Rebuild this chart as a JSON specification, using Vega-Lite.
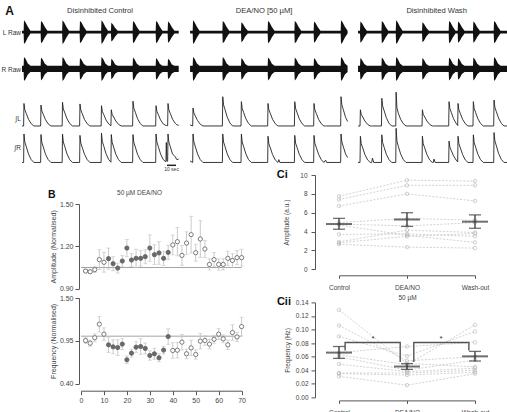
{
  "$schema": "https://vega.github.io/schema/vega-lite/v6.json",
  "background": "white",
  "padding": {"left": 0, "top": 0, "right": 0, "bottom": 0},
  "config": {
    "view": {"stroke": null},
    "font": "Liberation Sans",
    "axis": {"grid": false, "domainColor": "#555", "domainWidth": 1, "tickColor": "#555", "tickWidth": 1, "tickSize": 4, "labelColor": "#444", "labelFontSize": 7, "titleColor": "#444", "titleFontSize": 7, "titleFontWeight": "normal", "labelFlush": false, "labelOverlap": false}
  },
  "datasets": {
    "raw": [
      {"s":"c","t":0,"l":0.12,"m":-0.12,"r":0.26,"n":-0.26},
      {"s":"c","t":1.8,"l":0.12,"m":-0.12,"r":0.26,"n":-0.26},
      {"s":"c","t":2.2,"l":1,"m":-1,"r":1,"n":-1},
      {"s":"c","t":3.9,"l":0.85,"m":-0.85,"r":0.85,"n":-0.85},
      {"s":"c","t":6.5,"l":0.45,"m":-0.45,"r":0.45,"n":-0.45},
      {"s":"c","t":9.4,"l":0.12,"m":-0.12,"r":0.26,"n":-0.26},
      {"s":"c","t":20.7,"l":0.12,"m":-0.12,"r":0.26,"n":-0.26},
      {"s":"c","t":21.1,"l":0.95,"m":-0.95,"r":0.95,"n":-0.95},
      {"s":"c","t":22.8,"l":0.81,"m":-0.81,"r":0.81,"n":-0.81},
      {"s":"c","t":25.4,"l":0.43,"m":-0.43,"r":0.43,"n":-0.43},
      {"s":"c","t":28.3,"l":0.12,"m":-0.12,"r":0.26,"n":-0.26},
      {"s":"c","t":44.6,"l":0.12,"m":-0.12,"r":0.26,"n":-0.26},
      {"s":"c","t":45,"l":1,"m":-1,"r":1,"n":-1},
      {"s":"c","t":46.7,"l":0.85,"m":-0.85,"r":0.85,"n":-0.85},
      {"s":"c","t":49.3,"l":0.45,"m":-0.45,"r":0.45,"n":-0.45},
      {"s":"c","t":52.2,"l":0.12,"m":-0.12,"r":0.26,"n":-0.26},
      {"s":"c","t":64,"l":0.12,"m":-0.12,"r":0.26,"n":-0.26},
      {"s":"c","t":64.4,"l":0.95,"m":-0.95,"r":0.9,"n":-0.9},
      {"s":"c","t":66.1,"l":0.81,"m":-0.81,"r":0.77,"n":-0.77},
      {"s":"c","t":68.7,"l":0.43,"m":-0.43,"r":0.41,"n":-0.41},
      {"s":"c","t":71.6,"l":0.12,"m":-0.12,"r":0.26,"n":-0.26},
      {"s":"c","t":87.9,"l":0.12,"m":-0.12,"r":0.26,"n":-0.26},
      {"s":"c","t":88.3,"l":1,"m":-1,"r":1,"n":-1},
      {"s":"c","t":90,"l":0.85,"m":-0.85,"r":0.85,"n":-0.85},
      {"s":"c","t":92.6,"l":0.45,"m":-0.45,"r":0.45,"n":-0.45},
      {"s":"c","t":95.5,"l":0.12,"m":-0.12,"r":0.26,"n":-0.26},
      {"s":"c","t":98.8,"l":0.12,"m":-0.12,"r":0.26,"n":-0.26},
      {"s":"c","t":99.2,"l":0.8,"m":-0.8,"r":0.85,"n":-0.85},
      {"s":"c","t":100.9,"l":0.68,"m":-0.68,"r":0.72,"n":-0.72},
      {"s":"c","t":103.5,"l":0.36,"m":-0.36,"r":0.38,"n":-0.38},
      {"s":"c","t":106.4,"l":0.12,"m":-0.12,"r":0.26,"n":-0.26},
      {"s":"c","t":122.9,"l":0.12,"m":-0.12,"r":0.26,"n":-0.26},
      {"s":"c","t":123.3,"l":0.95,"m":-0.95,"r":0.95,"n":-0.95},
      {"s":"c","t":125,"l":0.81,"m":-0.81,"r":0.81,"n":-0.81},
      {"s":"c","t":127.6,"l":0.43,"m":-0.43,"r":0.43,"n":-0.43},
      {"s":"c","t":130.5,"l":0.12,"m":-0.12,"r":0.26,"n":-0.26},
      {"s":"c","t":148.5,"l":0.12,"m":-0.12,"r":0.26,"n":-0.26},
      {"s":"c","t":148.9,"l":0.95,"m":-0.95,"r":0.9,"n":-0.9},
      {"s":"c","t":150.6,"l":0.81,"m":-0.81,"r":0.77,"n":-0.77},
      {"s":"c","t":153.2,"l":0.43,"m":-0.43,"r":0.41,"n":-0.41},
      {"s":"c","t":156.1,"l":0.12,"m":-0.12,"r":0.26,"n":-0.26},
      {"s":"c","t":161.8,"l":0.12,"m":-0.12,"r":0.26,"n":-0.26},
      {"s":"c","t":162.2,"l":0.9,"m":-0.9,"r":0.85,"n":-0.85},
      {"s":"c","t":163.9,"l":0.77,"m":-0.77,"r":0.72,"n":-0.72},
      {"s":"c","t":166.5,"l":0.41,"m":-0.41,"r":0.38,"n":-0.38},
      {"s":"c","t":169.4,"l":0.12,"m":-0.12,"r":0.26,"n":-0.26},
      {"s":"c","t":174.1,"l":0.12,"m":-0.12,"r":0.26,"n":-0.26},
      {"s":"d","t":186.7,"l":0.12,"m":-0.12,"r":0.26,"n":-0.26},
      {"s":"d","t":189.6,"l":0.12,"m":-0.12,"r":0.26,"n":-0.26},
      {"s":"d","t":190,"l":1,"m":-1,"r":1,"n":-1},
      {"s":"d","t":191.7,"l":0.85,"m":-0.85,"r":0.85,"n":-0.85},
      {"s":"d","t":194.3,"l":0.45,"m":-0.45,"r":0.45,"n":-0.45},
      {"s":"d","t":197.2,"l":0.12,"m":-0.12,"r":0.26,"n":-0.26},
      {"s":"d","t":222.6,"l":0.12,"m":-0.12,"r":0.26,"n":-0.26},
      {"s":"d","t":223,"l":0.95,"m":-0.95,"r":1,"n":-1},
      {"s":"d","t":224.7,"l":0.81,"m":-0.81,"r":0.85,"n":-0.85},
      {"s":"d","t":227.3,"l":0.43,"m":-0.43,"r":0.45,"n":-0.45},
      {"s":"d","t":230.2,"l":0.12,"m":-0.12,"r":0.26,"n":-0.26},
      {"s":"d","t":243.3,"l":0.12,"m":-0.12,"r":0.26,"n":-0.26},
      {"s":"d","t":243.7,"l":0.85,"m":-0.85,"r":0.9,"n":-0.9},
      {"s":"d","t":245.4,"l":0.72,"m":-0.72,"r":0.77,"n":-0.77},
      {"s":"d","t":248,"l":0.38,"m":-0.38,"r":0.41,"n":-0.41},
      {"s":"d","t":250.9,"l":0.12,"m":-0.12,"r":0.26,"n":-0.26},
      {"s":"d","t":272.9,"l":0.12,"m":-0.12,"r":0.26,"n":-0.26},
      {"s":"d","t":273.3,"l":0.95,"m":-0.95,"r":0.95,"n":-0.95},
      {"s":"d","t":275,"l":0.81,"m":-0.81,"r":0.81,"n":-0.81},
      {"s":"d","t":277.6,"l":0.43,"m":-0.43,"r":0.43,"n":-0.43},
      {"s":"d","t":280.5,"l":0.12,"m":-0.12,"r":0.26,"n":-0.26},
      {"s":"d","t":302.6,"l":0.12,"m":-0.12,"r":0.26,"n":-0.26},
      {"s":"d","t":303,"l":0.95,"m":-0.95,"r":0.95,"n":-0.95},
      {"s":"d","t":304.7,"l":0.81,"m":-0.81,"r":0.81,"n":-0.81},
      {"s":"d","t":307.3,"l":0.43,"m":-0.43,"r":0.43,"n":-0.43},
      {"s":"d","t":310.2,"l":0.12,"m":-0.12,"r":0.26,"n":-0.26},
      {"s":"d","t":324,"l":0.12,"m":-0.12,"r":0.26,"n":-0.26},
      {"s":"d","t":324.4,"l":0.9,"m":-0.9,"r":0.9,"n":-0.9},
      {"s":"d","t":326.1,"l":0.77,"m":-0.77,"r":0.77,"n":-0.77},
      {"s":"d","t":328.7,"l":0.41,"m":-0.41,"r":0.41,"n":-0.41},
      {"s":"d","t":331.6,"l":0.12,"m":-0.12,"r":0.26,"n":-0.26},
      {"s":"d","t":354,"l":0.12,"m":-0.12,"r":0.26,"n":-0.26},
      {"s":"d","t":354.4,"l":1,"m":-1,"r":1,"n":-1},
      {"s":"d","t":356.1,"l":0.85,"m":-0.85,"r":0.85,"n":-0.85},
      {"s":"d","t":358.7,"l":0.45,"m":-0.45,"r":0.45,"n":-0.45},
      {"s":"d","t":361.7,"l":0.12,"m":-0.12,"r":0.26,"n":-0.26},
      {"s":"w","t":373.3,"l":0.12,"m":-0.12,"r":0.26,"n":-0.26},
      {"s":"w","t":375.5,"l":0.12,"m":-0.12,"r":0.26,"n":-0.26},
      {"s":"w","t":375.9,"l":0.9,"m":-0.9,"r":0.9,"n":-0.9},
      {"s":"w","t":377.6,"l":0.77,"m":-0.77,"r":0.77,"n":-0.77},
      {"s":"w","t":380.2,"l":0.41,"m":-0.41,"r":0.41,"n":-0.41},
      {"s":"w","t":383.1,"l":0.12,"m":-0.12,"r":0.26,"n":-0.26},
      {"s":"w","t":399.3,"l":0.12,"m":-0.12,"r":0.26,"n":-0.26},
      {"s":"w","t":399.7,"l":0.95,"m":-0.95,"r":0.95,"n":-0.95},
      {"s":"w","t":401.4,"l":0.81,"m":-0.81,"r":0.81,"n":-0.81},
      {"s":"w","t":404,"l":0.43,"m":-0.43,"r":0.43,"n":-0.43},
      {"s":"w","t":406.9,"l":0.12,"m":-0.12,"r":0.26,"n":-0.26},
      {"s":"w","t":415.2,"l":0.12,"m":-0.12,"r":0.26,"n":-0.26},
      {"s":"w","t":415.6,"l":1,"m":-1,"r":1,"n":-1},
      {"s":"w","t":417.3,"l":0.85,"m":-0.85,"r":0.85,"n":-0.85},
      {"s":"w","t":419.9,"l":0.45,"m":-0.45,"r":0.45,"n":-0.45},
      {"s":"w","t":422.8,"l":0.12,"m":-0.12,"r":0.26,"n":-0.26},
      {"s":"w","t":444.4,"l":0.12,"m":-0.12,"r":0.26,"n":-0.26},
      {"s":"w","t":444.8,"l":0.85,"m":-0.85,"r":0.9,"n":-0.9},
      {"s":"w","t":446.5,"l":0.72,"m":-0.72,"r":0.77,"n":-0.77},
      {"s":"w","t":449.1,"l":0.38,"m":-0.38,"r":0.41,"n":-0.41},
      {"s":"w","t":452,"l":0.12,"m":-0.12,"r":0.26,"n":-0.26},
      {"s":"w","t":474,"l":0.12,"m":-0.12,"r":0.26,"n":-0.26},
      {"s":"w","t":474.4,"l":0.95,"m":-0.95,"r":0.95,"n":-0.95},
      {"s":"w","t":476.1,"l":0.81,"m":-0.81,"r":0.81,"n":-0.81},
      {"s":"w","t":478.7,"l":0.43,"m":-0.43,"r":0.43,"n":-0.43},
      {"s":"w","t":481.6,"l":0.12,"m":-0.12,"r":0.26,"n":-0.26},
      {"s":"w","t":484,"l":0.12,"m":-0.12,"r":0.26,"n":-0.26},
      {"s":"w","t":484.4,"l":0.9,"m":-0.9,"r":0.9,"n":-0.9},
      {"s":"w","t":486.1,"l":0.77,"m":-0.77,"r":0.77,"n":-0.77},
      {"s":"w","t":488.7,"l":0.41,"m":-0.41,"r":0.41,"n":-0.41},
      {"s":"w","t":491.6,"l":0.12,"m":-0.12,"r":0.26,"n":-0.26},
      {"s":"w","t":501,"l":0.12,"m":-0.12,"r":0.26,"n":-0.26},
      {"s":"w","t":501.4,"l":0.9,"m":-0.9,"r":0.95,"n":-0.95},
      {"s":"w","t":503.1,"l":0.77,"m":-0.77,"r":0.81,"n":-0.81},
      {"s":"w","t":505.7,"l":0.41,"m":-0.41,"r":0.43,"n":-0.43},
      {"s":"w","t":508.6,"l":0.12,"m":-0.12,"r":0.26,"n":-0.26},
      {"s":"w","t":524,"l":0.12,"m":-0.12,"r":0.26,"n":-0.26},
      {"s":"w","t":524.4,"l":0.95,"m":-0.95,"r":1,"n":-1},
      {"s":"w","t":526.1,"l":0.81,"m":-0.81,"r":0.85,"n":-0.85},
      {"s":"w","t":528.7,"l":0.43,"m":-0.43,"r":0.45,"n":-0.45},
      {"s":"w","t":531.6,"l":0.12,"m":-0.12,"r":0.26,"n":-0.26},
      {"s":"w","t":541,"l":0.12,"m":-0.12,"r":0.26,"n":-0.26}
    ],
    "intg": [
      {"s":"c","t":0,"l":0,"r":0},{"s":"c","t":1.8,"l":0,"r":0},{"s":"c","t":2.2,"l":1,"r":1},{"s":"c","t":3.1,"l":0.72,"r":0.72},{"s":"c","t":4.8,"l":0.55,"r":0.55},{"s":"c","t":7.2,"l":0.3,"r":0.3},{"s":"c","t":10.2,"l":0.1,"r":0.1},{"s":"c","t":13.2,"l":0,"r":0},
      {"s":"c","t":20.7,"l":0,"r":0},{"s":"c","t":21.1,"l":0.93,"r":0.98},{"s":"c","t":22,"l":0.67,"r":0.71},{"s":"c","t":23.7,"l":0.51,"r":0.54},{"s":"c","t":26.1,"l":0.28,"r":0.29},{"s":"c","t":29.1,"l":0.09,"r":0.1},{"s":"c","t":32.1,"l":0,"r":0},
      {"s":"c","t":44.6,"l":0,"r":0},{"s":"c","t":45,"l":1.05,"r":1},{"s":"c","t":45.9,"l":0.76,"r":0.72},{"s":"c","t":47.6,"l":0.58,"r":0.55},{"s":"c","t":50,"l":0.32,"r":0.3},{"s":"c","t":53,"l":0.11,"r":0.1},{"s":"c","t":56,"l":0,"r":0},
      {"s":"c","t":64,"l":0,"r":0},{"s":"c","t":64.4,"l":0.98,"r":0.95},{"s":"c","t":65.3,"l":0.71,"r":0.68},{"s":"c","t":67,"l":0.54,"r":0.52},{"s":"c","t":69.4,"l":0.29,"r":0.29},{"s":"c","t":72.4,"l":0.1,"r":0.1},{"s":"c","t":75.4,"l":0,"r":0},
      {"s":"c","t":87.9,"l":0,"r":0},{"s":"c","t":88.3,"l":0.9,"r":1.03},{"s":"c","t":89.2,"l":0.65,"r":0.74},{"s":"c","t":90.9,"l":0.5,"r":0.57},{"s":"c","t":93.3,"l":0.27,"r":0.31},{"s":"c","t":96.3,"l":0.09,"r":0.1},
      {"s":"c","t":98.8,"l":0.01,"r":0.01},{"s":"c","t":99.2,"l":0.72,"r":0.98},{"s":"c","t":100.1,"l":0.52,"r":0.71},{"s":"c","t":101.8,"l":0.4,"r":0.54},{"s":"c","t":104.2,"l":0.22,"r":0.29},{"s":"c","t":107.2,"l":0.07,"r":0.1},{"s":"c","t":110.2,"l":0,"r":0},
      {"s":"c","t":122.9,"l":0,"r":0},{"s":"c","t":123.3,"l":1.1,"r":0.98},{"s":"c","t":124.2,"l":0.79,"r":0.71},{"s":"c","t":125.9,"l":0.61,"r":0.54},{"s":"c","t":128.3,"l":0.33,"r":0.29},{"s":"c","t":131.3,"l":0.11,"r":0.1},{"s":"c","t":134.3,"l":0,"r":0},
      {"s":"c","t":148.5,"l":0,"r":0},{"s":"c","t":148.9,"l":0.9,"r":1},{"s":"c","t":149.8,"l":0.65,"r":0.72},{"s":"c","t":151.5,"l":0.5,"r":0.55},{"s":"c","t":153.9,"l":0.27,"r":0.3},{"s":"c","t":156.9,"l":0.09,"r":0.1},
      {"s":"c","t":159.9,"l":0.02,"r":0.02},{"s":"c","t":160.3,"l":0.02,"r":0.7},{"s":"c","t":160.9,"l":0.02,"r":0.06},
      {"s":"c","t":161.8,"l":0.01,"r":0.04},{"s":"c","t":162.2,"l":1,"r":1},{"s":"c","t":163.1,"l":0.72,"r":0.72},{"s":"c","t":164.8,"l":0.55,"r":0.55},{"s":"c","t":167.2,"l":0.3,"r":0.3},{"s":"c","t":170.2,"l":0.12,"r":0.2},{"s":"c","t":172,"l":0.05,"r":0.1},{"s":"c","t":174.1,"l":0.03,"r":0.12},
      {"s":"d","t":186.7,"l":0.05,"r":0.05},{"s":"d","t":189.6,"l":0,"r":0},{"s":"d","t":190,"l":0.8,"r":1},{"s":"d","t":190.9,"l":0.58,"r":0.72},{"s":"d","t":192.6,"l":0.44,"r":0.55},{"s":"d","t":195,"l":0.24,"r":0.3},{"s":"d","t":198,"l":0.08,"r":0.1},{"s":"d","t":201,"l":0,"r":0},
      {"s":"d","t":222.6,"l":0,"r":0},{"s":"d","t":223,"l":1.3,"r":1},{"s":"d","t":223.9,"l":0.94,"r":0.72},{"s":"d","t":225.6,"l":0.72,"r":0.55},{"s":"d","t":228,"l":0.39,"r":0.3},{"s":"d","t":231,"l":0.13,"r":0.1},{"s":"d","t":234,"l":0,"r":0},
      {"s":"d","t":243.3,"l":0,"r":0},{"s":"d","t":243.7,"l":1.08,"r":1},{"s":"d","t":244.6,"l":0.78,"r":0.72},{"s":"d","t":246.3,"l":0.59,"r":0.55},{"s":"d","t":248.7,"l":0.32,"r":0.3},{"s":"d","t":251.7,"l":0.11,"r":0.1},{"s":"d","t":254.7,"l":0,"r":0},
      {"s":"d","t":272.9,"l":0,"r":0},{"s":"d","t":273.3,"l":1,"r":0.92},{"s":"d","t":274.2,"l":0.72,"r":0.66},{"s":"d","t":275.9,"l":0.55,"r":0.51},{"s":"d","t":278.3,"l":0.3,"r":0.28},{"s":"d","t":281.3,"l":0.1,"r":0.09},{"s":"d","t":284.3,"l":0,"r":0},
      {"s":"d","t":285.3,"l":0,"r":0.1},{"s":"d","t":286.5,"l":0,"r":0},
      {"s":"d","t":302.6,"l":0,"r":0},{"s":"d","t":303,"l":1.08,"r":0.95},{"s":"d","t":303.9,"l":0.78,"r":0.68},{"s":"d","t":305.6,"l":0.59,"r":0.52},{"s":"d","t":308,"l":0.32,"r":0.29},{"s":"d","t":311,"l":0.11,"r":0.1},{"s":"d","t":314,"l":0,"r":0},
      {"s":"d","t":324,"l":0,"r":0},{"s":"d","t":324.4,"l":1,"r":0.95},{"s":"d","t":325.3,"l":0.72,"r":0.68},{"s":"d","t":327,"l":0.55,"r":0.52},{"s":"d","t":329.4,"l":0.3,"r":0.29},{"s":"d","t":332.4,"l":0.1,"r":0.1},{"s":"d","t":335.4,"l":0,"r":0},
      {"s":"d","t":337.3,"l":0,"r":0.08},{"s":"d","t":338.5,"l":0,"r":0},
      {"s":"d","t":354,"l":0,"r":0},{"s":"d","t":354.4,"l":1.3,"r":1},{"s":"d","t":355.3,"l":0.94,"r":0.72},{"s":"d","t":357,"l":0.72,"r":0.55},{"s":"d","t":359.4,"l":0.39,"r":0.3},{"s":"d","t":361.7,"l":0.2,"r":0.17},
      {"s":"w","t":373.3,"l":0,"r":0},{"s":"w","t":375.5,"l":0,"r":0},{"s":"w","t":375.9,"l":0.72,"r":0.92},{"s":"w","t":376.8,"l":0.52,"r":0.66},{"s":"w","t":378.5,"l":0.4,"r":0.51},{"s":"w","t":380.9,"l":0.22,"r":0.28},{"s":"w","t":383.9,"l":0.07,"r":0.09},{"s":"w","t":386.9,"l":0,"r":0},
      {"s":"w","t":388.5,"l":0,"r":0},{"s":"w","t":389.3,"l":0,"r":0.15},{"s":"w","t":390.8,"l":0,"r":0},
      {"s":"w","t":399.3,"l":0,"r":0},{"s":"w","t":399.7,"l":1.23,"r":0.97},{"s":"w","t":400.6,"l":0.89,"r":0.7},{"s":"w","t":402.3,"l":0.68,"r":0.53},{"s":"w","t":404.7,"l":0.37,"r":0.29},{"s":"w","t":407.7,"l":0.12,"r":0.1},{"s":"w","t":410.7,"l":0,"r":0},
      {"s":"w","t":415.2,"l":0,"r":0},{"s":"w","t":415.6,"l":1.5,"r":1.2},{"s":"w","t":416.5,"l":0.8,"r":0.75},{"s":"w","t":418.2,"l":0.55,"r":0.55},{"s":"w","t":420.6,"l":0.3,"r":0.3},{"s":"w","t":423.6,"l":0.1,"r":0.1},{"s":"w","t":426.6,"l":0,"r":0},
      {"s":"w","t":444.4,"l":0,"r":0},{"s":"w","t":444.8,"l":0.72,"r":0.92},{"s":"w","t":445.7,"l":0.52,"r":0.66},{"s":"w","t":447.4,"l":0.4,"r":0.51},{"s":"w","t":449.8,"l":0.22,"r":0.28},{"s":"w","t":452.8,"l":0.07,"r":0.09},{"s":"w","t":455.8,"l":0,"r":0},
      {"s":"w","t":456.9,"l":0,"r":0},{"s":"w","t":457.7,"l":0,"r":0.12},{"s":"w","t":459,"l":0,"r":0},
      {"s":"w","t":474,"l":0,"r":0},{"s":"w","t":474.4,"l":1.08,"r":0.75},{"s":"w","t":475.3,"l":0.78,"r":0.54},{"s":"w","t":477,"l":0.59,"r":0.41},{"s":"w","t":479.4,"l":0.32,"r":0.23},{"s":"w","t":482.4,"l":0.11,"r":0.08},
      {"s":"w","t":484,"l":0.02,"r":0.02},{"s":"w","t":484.4,"l":1,"r":0.92},{"s":"w","t":485.3,"l":0.72,"r":0.66},{"s":"w","t":487,"l":0.55,"r":0.51},{"s":"w","t":489.4,"l":0.3,"r":0.28},{"s":"w","t":492.4,"l":0.1,"r":0.09},{"s":"w","t":495.4,"l":0,"r":0},
      {"s":"w","t":501,"l":0,"r":0},{"s":"w","t":501.4,"l":1.08,"r":0.97},{"s":"w","t":502.3,"l":0.78,"r":0.7},{"s":"w","t":504,"l":0.59,"r":0.53},{"s":"w","t":506.4,"l":0.32,"r":0.29},{"s":"w","t":509.4,"l":0.11,"r":0.1},{"s":"w","t":512.4,"l":0,"r":0},
      {"s":"w","t":524,"l":0,"r":0},{"s":"w","t":524.4,"l":1.15,"r":1.05},{"s":"w","t":525.3,"l":0.83,"r":0.76},{"s":"w","t":527,"l":0.63,"r":0.58},{"s":"w","t":529.4,"l":0.35,"r":0.32},{"s":"w","t":532.4,"l":0.12,"r":0.11},{"s":"w","t":535.4,"l":0,"r":0},
      {"s":"w","t":541,"l":0,"r":0}
    ],
    "bser": [
      {"t":2,"a":1.025,"aL":1.013,"aH":1.037,"f":0.954,"fL":0.919,"fH":0.989,"p":"off"},
      {"t":4,"a":1.02,"aL":1.008,"aH":1.032,"f":0.92,"fL":0.88,"fH":0.96,"p":"off"},
      {"t":6,"a":1.035,"aL":1.015,"aH":1.055,"f":0.99,"fL":0.94,"fH":1.04,"p":"off"},
      {"t":8,"a":1.106,"aL":1.036,"aH":1.176,"f":1.164,"fL":1.064,"fH":1.264,"p":"off"},
      {"t":10,"a":1.087,"aL":1.017,"aH":1.157,"f":1.036,"fL":0.956,"fH":1.116,"p":"off"},
      {"t":12,"a":1.113,"aL":1.038,"aH":1.188,"f":0.899,"fL":0.799,"fH":0.999,"p":"on"},
      {"t":14,"a":1.077,"aL":1.027,"aH":1.127,"f":0.873,"fL":0.783,"fH":0.963,"p":"on"},
      {"t":16,"a":1.046,"aL":1.011,"aH":1.081,"f":0.864,"fL":0.764,"fH":0.964,"p":"on"},
      {"t":18,"a":1.096,"aL":1.056,"aH":1.136,"f":0.908,"fL":0.838,"fH":0.978,"p":"on"},
      {"t":20,"a":1.188,"aL":1.128,"aH":1.248,"f":0.707,"fL":0.657,"fH":0.757,"p":"on"},
      {"t":22,"a":1.103,"aL":1.058,"aH":1.148,"f":0.792,"fL":0.742,"fH":0.842,"p":"on"},
      {"t":24,"a":1.115,"aL":1.05,"aH":1.18,"f":0.869,"fL":0.799,"fH":0.939,"p":"on"},
      {"t":26,"a":1.115,"aL":1.06,"aH":1.17,"f":0.877,"fL":0.777,"fH":0.977,"p":"on"},
      {"t":28,"a":1.127,"aL":1.077,"aH":1.177,"f":0.852,"fL":0.782,"fH":0.922,"p":"on"},
      {"t":30,"a":1.188,"aL":1.095,"aH":1.281,"f":0.762,"fL":0.702,"fH":0.822,"p":"on"},
      {"t":32,"a":1.141,"aL":1.071,"aH":1.211,"f":0.784,"fL":0.714,"fH":0.854,"p":"on"},
      {"t":34,"a":1.153,"aL":1.073,"aH":1.233,"f":0.733,"fL":0.683,"fH":0.783,"p":"on"},
      {"t":36,"a":1.115,"aL":1.065,"aH":1.165,"f":0.831,"fL":0.781,"fH":0.881,"p":"on"},
      {"t":38,"a":1.157,"aL":1.107,"aH":1.207,"f":1.005,"fL":0.905,"fH":1.105,"p":"on"},
      {"t":40,"a":1.21,"aL":1.14,"aH":1.28,"f":0.826,"fL":0.726,"fH":0.926,"p":"off"},
      {"t":42,"a":1.233,"aL":1.133,"aH":1.333,"f":0.83,"fL":0.73,"fH":0.93,"p":"off"},
      {"t":44,"a":1.136,"aL":1.066,"aH":1.206,"f":0.933,"fL":0.833,"fH":1.033,"p":"off"},
      {"t":46,"a":1.223,"aL":1.143,"aH":1.303,"f":0.784,"fL":0.724,"fH":0.844,"p":"off"},
      {"t":48,"a":1.283,"aL":1.153,"aH":1.413,"f":0.86,"fL":0.76,"fH":0.96,"p":"off"},
      {"t":50,"a":1.155,"aL":1.095,"aH":1.215,"f":0.775,"fL":0.715,"fH":0.835,"p":"off"},
      {"t":52,"a":1.252,"aL":1.122,"aH":1.382,"f":0.946,"fL":0.846,"fH":1.046,"p":"off"},
      {"t":54,"a":1.181,"aL":1.121,"aH":1.241,"f":0.954,"fL":0.894,"fH":1.014,"p":"off"},
      {"t":56,"a":1.072,"aL":1.032,"aH":1.112,"f":0.908,"fL":0.848,"fH":0.968,"p":"off"},
      {"t":58,"a":1.106,"aL":1.056,"aH":1.156,"f":0.97,"fL":0.92,"fH":1.02,"p":"off"},
      {"t":60,"a":1.072,"aL":1.032,"aH":1.112,"f":1.036,"fL":0.966,"fH":1.106,"p":"off"},
      {"t":62,"a":1.072,"aL":1.032,"aH":1.112,"f":0.976,"fL":0.926,"fH":1.026,"p":"off"},
      {"t":64,"a":1.115,"aL":1.065,"aH":1.165,"f":0.899,"fL":0.839,"fH":0.959,"p":"off"},
      {"t":66,"a":1.1,"aL":1.05,"aH":1.15,"f":1.057,"fL":0.957,"fH":1.157,"p":"off"},
      {"t":68,"a":1.12,"aL":1.07,"aH":1.17,"f":1.0,"fL":0.94,"fH":1.06,"p":"off"},
      {"t":70,"a":1.12,"aL":1.06,"aH":1.18,"f":1.133,"fL":1.013,"fH":1.253,"p":"off"}
    ],
    "amp": [
      {"id":1,"c":1,"v":7.75},{"id":1,"c":2,"v":9.45},{"id":1,"c":3,"v":9.35},
      {"id":2,"c":1,"v":7.4},{"id":2,"c":2,"v":8.9},{"id":2,"c":3,"v":8.9},
      {"id":3,"c":1,"v":6.7},{"id":3,"c":2,"v":8.0},{"id":3,"c":3,"v":7.25},
      {"id":4,"c":1,"v":4.95},{"id":4,"c":2,"v":5.4},{"id":4,"c":3,"v":5.2},
      {"id":5,"c":1,"v":4.8},{"id":5,"c":2,"v":4.6},{"id":5,"c":3,"v":4.95},
      {"id":6,"c":1,"v":4.7},{"id":6,"c":2,"v":3.6},{"id":6,"c":3,"v":2.85},
      {"id":7,"c":1,"v":3.7},{"id":7,"c":2,"v":3.75},{"id":7,"c":3,"v":3.5},
      {"id":8,"c":1,"v":2.9},{"id":8,"c":2,"v":4.15},{"id":8,"c":3,"v":3.9},
      {"id":9,"c":1,"v":2.8},{"id":9,"c":2,"v":3.5},{"id":9,"c":3,"v":3.8},
      {"id":10,"c":1,"v":2.65},{"id":10,"c":2,"v":2.35},{"id":10,"c":3,"v":2.25}
    ],
    "ampM": [
      {"c":1,"m":4.8,"lo":4.25,"hi":5.4},
      {"c":2,"m":5.28,"lo":4.55,"hi":6.0},
      {"c":3,"m":5.05,"lo":4.35,"hi":5.77}
    ],
    "frq": [
      {"id":1,"c":1,"v":0.129},{"id":1,"c":2,"v":0.05},{"id":1,"c":3,"v":0.045},
      {"id":2,"c":1,"v":0.106},{"id":2,"c":2,"v":0.054},{"id":2,"c":3,"v":0.06},
      {"id":3,"c":1,"v":0.09},{"id":3,"c":2,"v":0.061},{"id":3,"c":3,"v":0.097},
      {"id":4,"c":1,"v":0.066},{"id":4,"c":2,"v":0.075},{"id":4,"c":3,"v":0.081},
      {"id":5,"c":1,"v":0.063},{"id":5,"c":2,"v":0.048},{"id":5,"c":3,"v":0.107},
      {"id":6,"c":1,"v":0.06},{"id":6,"c":2,"v":0.04},{"id":6,"c":3,"v":0.055},
      {"id":7,"c":1,"v":0.049},{"id":7,"c":2,"v":0.038},{"id":7,"c":3,"v":0.043},
      {"id":8,"c":1,"v":0.036},{"id":8,"c":2,"v":0.036},{"id":8,"c":3,"v":0.04},
      {"id":9,"c":1,"v":0.035},{"id":9,"c":2,"v":0.033},{"id":9,"c":3,"v":0.037},
      {"id":10,"c":1,"v":0.031},{"id":10,"c":2,"v":0.018},{"id":10,"c":3,"v":0.035}
    ],
    "frqM": [
      {"c":1,"m":0.066,"lo":0.0575,"hi":0.075},
      {"c":2,"m":0.0455,"lo":0.0413,"hi":0.0497},
      {"c":3,"m":0.0605,"lo":0.0536,"hi":0.0678}
    ],
    "brk": [
      {"b":1,"k":0,"c":1.09,"v":0.069},{"b":1,"k":1,"c":1.09,"v":0.081},{"b":1,"k":2,"c":1.9,"v":0.081},{"b":1,"k":3,"c":1.9,"v":0.052},
      {"b":2,"k":0,"c":2.1,"v":0.052},{"b":2,"k":1,"c":2.1,"v":0.081},{"b":2,"k":2,"c":2.91,"v":0.081},{"b":2,"k":3,"c":2.91,"v":0.069}
    ],
    "sig": [
      {"c":1.5,"v":0.081,"mark":"*"},{"c":2.5,"v":0.081,"mark":"*"}
    ]
  },
  "bounds": "flush",
  "spacing": 0,
  "vconcat": [
    {
      "width": 487, "height": 18,
      "encoding": {
        "x": {"field": "t", "type": "quantitative", "scale": {"domain": [0, 541], "nice": false}, "axis": null},
        "text": {"field": "name"}
      },
      "layer": [
        {
          "data": {"values": [{"t": 86.7, "name": "Disinhibited Control"}, {"t": 268.9, "name": "DEA/NO [50 µM]"}, {"t": 460.6, "name": "Disinhibited Wash"}]},
          "mark": {"type": "text", "fontSize": 7.6, "color": "#333", "dy": 2}
        },
        {
          "data": {"values": [{"t": -13.9, "name": "A"}]},
          "mark": {"type": "text", "fontSize": 12, "fontWeight": "bold", "color": "#111", "dy": 2}
        }
      ]
    },
    {
      "width": 487, "height": 33,
      "data": {"name": "raw"},
      "mark": {"type": "area", "color": "#111"},
      "encoding": {
        "x": {"field": "t", "type": "quantitative", "scale": {"domain": [0, 541], "nice": false}, "axis": null},
        "y": {"field": "l", "type": "quantitative", "scale": {"domain": [-1.6, 1.2], "nice": false, "zero": false}, "axis": {"title": "L Raw", "domain": false, "ticks": false, "labels": false, "titleAngle": 0, "titleAlign": "right", "titleBaseline": "middle", "titleX": -1.5, "titleY": 14, "titleFontSize": 6.5, "titleColor": "#333"}},
        "y2": {"field": "m"},
        "detail": {"field": "s"}
      }
    },
    {
      "width": 487, "height": 41,
      "data": {"name": "raw"},
      "mark": {"type": "area", "color": "#111"},
      "encoding": {
        "x": {"field": "t", "type": "quantitative", "scale": {"domain": [0, 541], "nice": false}, "axis": null},
        "y": {"field": "r", "type": "quantitative", "scale": {"domain": [-1.91, 1.49], "nice": false, "zero": false}, "axis": {"title": "R Raw", "domain": false, "ticks": false, "labels": false, "titleAngle": 0, "titleAlign": "right", "titleBaseline": "middle", "titleX": -1.5, "titleY": 18, "titleFontSize": 6.5, "titleColor": "#333"}},
        "y2": {"field": "n"},
        "detail": {"field": "s"}
      }
    },
    {
      "width": 487, "height": 36,
      "data": {"name": "intg"},
      "mark": {"type": "line", "color": "#222", "strokeWidth": 0.9},
      "encoding": {
        "x": {"field": "t", "type": "quantitative", "scale": {"domain": [0, 541], "nice": false}, "axis": null},
        "y": {"field": "l", "type": "quantitative", "scale": {"domain": [-0.09, 1.51], "nice": false, "zero": false}, "axis": {"title": "∫L", "domain": false, "ticks": false, "labels": false, "titleAngle": 0, "titleAlign": "right", "titleBaseline": "middle", "titleX": -1.5, "titleY": 26, "titleFontSize": 6.5, "titleColor": "#333"}},
        "detail": {"field": "s"}
      }
    },
    {
      "width": 487, "height": 47,
      "layer": [
        {
          "data": {"name": "intg"},
          "mark": {"type": "line", "color": "#222", "strokeWidth": 0.9},
          "encoding": {
            "x": {"field": "t", "type": "quantitative", "scale": {"domain": [0, 541], "nice": false}, "axis": null},
            "y": {"field": "r", "type": "quantitative", "scale": {"domain": [-0.44, 1.21], "nice": false, "zero": false}, "axis": {"title": "∫R", "domain": false, "ticks": false, "labels": false, "titleAngle": 0, "titleAlign": "right", "titleBaseline": "middle", "titleX": -1.5, "titleY": 19, "titleFontSize": 6.5, "titleColor": "#333"}},
            "detail": {"field": "s"}
          }
        },
        {
          "data": {"values": [{"start": 161.1, "end": 171.1, "mid": 166.1, "label": "10 sec"}]},
          "mark": {"type": "rule", "color": "#222", "strokeWidth": 1.5},
          "encoding": {
            "x": {"field": "start", "type": "quantitative"},
            "x2": {"field": "end"},
            "y": {"datum": -0.1}
          }
        },
        {
          "data": {"values": [{"start": 161.1, "end": 171.1, "mid": 166.1, "label": "10 sec"}]},
          "mark": {"type": "text", "fontSize": 5, "color": "#333", "baseline": "top", "dy": 2},
          "encoding": {
            "x": {"field": "mid", "type": "quantitative"},
            "y": {"datum": -0.1},
            "text": {"field": "label"}
          }
        }
      ]
    },
    {
      "bounds": "flush",
      "spacing": 0,
      "hconcat": [
        {"width": 58.7, "height": 10, "data": {"values": []}, "mark": "point"},
        {
          "bounds": "flush",
          "spacing": 9,
          "vconcat": [
            {
              "width": 160.6, "height": 20,
              "encoding": {
                "x": {"field": "t", "type": "quantitative", "scale": {"domain": [0, 70], "nice": false}, "axis": null},
                "text": {"field": "label"}
              },
              "layer": [
                {
                  "data": {"values": [{"t": 25.5, "label": "50 µM DEA/NO"}]},
                  "mark": {"type": "text", "fontSize": 6.5, "color": "#444", "dy": 8}
                },
                {
                  "data": {"values": [{"t": -12.7, "label": "B"}]},
                  "mark": {"type": "text", "fontSize": 10.5, "fontWeight": "bold", "color": "#111", "dy": 9.5}
                }
              ]
            },
            {
              "width": 160.6, "height": 84.7,
              "data": {"name": "bser"},
              "encoding": {
                "x": {"field": "t", "type": "quantitative", "scale": {"domain": [0, 70], "nice": false}, "axis": null},
                "y": {"field": "a", "type": "quantitative", "scale": {"domain": [0.9, 1.5], "nice": false, "zero": false}, "axis": {"title": "Amplitude (Normalised)", "values": [0.9, 1.2, 1.5], "format": ".2f", "offset": 2, "labelPadding": 2, "titlePadding": 3}}
              },
              "layer": [
                {
                  "data": {"values": [{"x0": 0, "x1": 70, "ref": 1.05}]},
                  "mark": {"type": "rule", "color": "#9a9a9a", "strokeWidth": 0.9},
                  "encoding": {"x": {"field": "x0", "type": "quantitative"}, "x2": {"field": "x1"}, "y": {"field": "ref", "type": "quantitative"}}
                },
                {
                  "data": {"values": [{"start": 11, "end": 40}]},
                  "mark": {"type": "rule", "color": "#8a8a8a", "strokeWidth": 3},
                  "encoding": {"x": {"field": "start", "type": "quantitative"}, "x2": {"field": "end"}, "y": {"datum": 1.5}}
                },
                {
                  "mark": {"type": "rule", "color": "#c4c4c4", "strokeWidth": 0.9},
                  "encoding": {"y": {"field": "aL", "type": "quantitative"}, "y2": {"field": "aH"}}
                },
                {
                  "mark": {"type": "tick", "orient": "horizontal", "size": 4, "thickness": 0.9, "color": "#c4c4c4"},
                  "encoding": {"y": {"field": "aH", "type": "quantitative"}}
                },
                {
                  "mark": {"type": "tick", "orient": "horizontal", "size": 4, "thickness": 0.9, "color": "#c4c4c4"},
                  "encoding": {"y": {"field": "aL", "type": "quantitative"}}
                },
                {
                  "mark": {"type": "point", "shape": "circle", "filled": true, "size": 18, "stroke": "#5c5c5c", "strokeWidth": 0.8, "opacity": 1},
                  "encoding": {"fill": {"field": "p", "type": "nominal", "scale": {"domain": ["off", "on"], "range": ["#ffffff", "#6a6a6a"]}, "legend": null}}
                }
              ]
            },
            {
              "width": 160.6, "height": 85.7,
              "data": {"name": "bser"},
              "encoding": {
                "x": {"field": "t", "type": "quantitative", "scale": {"domain": [0, 70], "nice": false}, "axis": {"values": [0, 10, 20, 30, 40, 50, 60, 70], "offset": 7, "title": null, "labelPadding": 2}},
                "y": {"field": "f", "type": "quantitative", "scale": {"domain": [0.4, 1.5], "nice": false, "zero": false}, "axis": {"title": "Frequency (Normalised)", "values": [0.4, 0.95, 1.5], "format": ".2f", "offset": 2, "labelPadding": 2, "titlePadding": 3}}
              },
              "layer": [
                {
                  "data": {"values": [{"x0": 0, "x1": 70, "ref": 1.01}]},
                  "mark": {"type": "rule", "color": "#9a9a9a", "strokeWidth": 0.9},
                  "encoding": {"x": {"field": "x0", "type": "quantitative"}, "x2": {"field": "x1"}, "y": {"field": "ref", "type": "quantitative"}}
                },
                {
                  "mark": {"type": "rule", "color": "#c4c4c4", "strokeWidth": 0.9},
                  "encoding": {"y": {"field": "fL", "type": "quantitative"}, "y2": {"field": "fH"}}
                },
                {
                  "mark": {"type": "tick", "orient": "horizontal", "size": 4, "thickness": 0.9, "color": "#c4c4c4"},
                  "encoding": {"y": {"field": "fH", "type": "quantitative"}}
                },
                {
                  "mark": {"type": "tick", "orient": "horizontal", "size": 4, "thickness": 0.9, "color": "#c4c4c4"},
                  "encoding": {"y": {"field": "fL", "type": "quantitative"}}
                },
                {
                  "mark": {"type": "point", "shape": "circle", "filled": true, "size": 18, "stroke": "#5c5c5c", "strokeWidth": 0.8, "opacity": 1},
                  "encoding": {"fill": {"field": "p", "type": "nominal", "scale": {"domain": ["off", "on"], "range": ["#ffffff", "#6a6a6a"]}, "legend": null}}
                }
              ]
            }
          ]
        },
        {"width": 257.3, "height": 10, "data": {"values": []}, "mark": "point"},
        {
          "bounds": "flush",
          "spacing": 32.4,
          "vconcat": [
            {
              "width": 136, "height": 94.3,
              "encoding": {
                "x": {"field": "c", "type": "quantitative", "scale": {"domain": [1, 3], "nice": false, "zero": false}, "axis": {"values": [1, 2, 3], "offset": 6, "tickSize": 3, "title": null, "labelExpr": "datum.value == 1 ? 'Control' : datum.value == 2 ? ['DEA/NO', '50 µM'] : 'Wash-out'", "labelBaseline": "middle", "labelPadding": 9.5, "labelLineHeight": 9.5, "labelFontSize": 6.5}},
                "y": {"field": "v", "type": "quantitative", "scale": {"domain": [0, 10], "nice": false}, "axis": {"title": "Amplitude (a.u.)", "values": [0, 2, 4, 6, 8, 10], "offset": 24, "labelFontSize": 6.5, "titleFontSize": 6.5, "labelPadding": 4, "titlePadding": 10}}
              },
              "layer": [
                {"data": {"name": "amp"}, "mark": {"type": "line", "color": "#c6c6c6", "strokeWidth": 0.8, "strokeDash": [2, 1.5]}, "encoding": {"detail": {"field": "id"}}},
                {"data": {"name": "amp"}, "mark": {"type": "point", "shape": "circle", "filled": false, "size": 12, "color": "#b0b0b0", "strokeWidth": 0.8}},
                {"data": {"name": "ampM"}, "mark": {"type": "rule", "color": "#333", "strokeWidth": 1.3}, "encoding": {"y": {"field": "lo", "type": "quantitative"}, "y2": {"field": "hi"}}},
                {"data": {"name": "ampM"}, "mark": {"type": "tick", "orient": "horizontal", "size": 12, "thickness": 1.3, "color": "#333"}, "encoding": {"y": {"field": "lo", "type": "quantitative"}}},
                {"data": {"name": "ampM"}, "mark": {"type": "tick", "orient": "horizontal", "size": 12, "thickness": 1.3, "color": "#333"}, "encoding": {"y": {"field": "hi", "type": "quantitative"}}},
                {"data": {"name": "ampM"}, "mark": {"type": "tick", "orient": "horizontal", "size": 26, "thickness": 2, "color": "#333"}, "encoding": {"y": {"field": "m", "type": "quantitative"}}},
                {"data": {"values": [{"c": 0.166, "v": 10, "label": "Ci"}]}, "mark": {"type": "text", "fontSize": 11, "fontWeight": "bold", "color": "#111"}, "encoding": {"text": {"field": "label"}}}
              ]
            },
            {
              "width": 136, "height": 95,
              "encoding": {
                "x": {"field": "c", "type": "quantitative", "scale": {"domain": [1, 3], "nice": false, "zero": false}, "axis": {"values": [1, 2, 3], "offset": 3, "tickSize": 3, "title": null, "labelExpr": "datum.value == 1 ? 'Control' : datum.value == 2 ? ['DEA/NO', '50 µM'] : 'Wash-out'", "labelBaseline": "middle", "labelPadding": 9.5, "labelLineHeight": 9.5, "labelFontSize": 6.5}},
                "y": {"field": "v", "type": "quantitative", "scale": {"domain": [0, 0.14], "nice": false}, "axis": {"title": "Frequency (Hz)", "values": [0, 0.02, 0.04, 0.06, 0.08, 0.1, 0.12, 0.14], "format": ".2f", "offset": 24, "labelFontSize": 6.5, "titleFontSize": 6.5, "labelPadding": 3, "titlePadding": 5}}
              },
              "layer": [
                {"data": {"name": "frq"}, "mark": {"type": "line", "color": "#c6c6c6", "strokeWidth": 0.8, "strokeDash": [2, 1.5]}, "encoding": {"detail": {"field": "id"}}},
                {"data": {"name": "frq"}, "mark": {"type": "point", "shape": "circle", "filled": false, "size": 12, "color": "#b0b0b0", "strokeWidth": 0.8}},
                {"data": {"name": "brk"}, "mark": {"type": "line", "color": "#555", "strokeWidth": 1.4}, "encoding": {"detail": {"field": "b"}, "order": {"field": "k"}}},
                {"data": {"name": "sig"}, "mark": {"type": "text", "fontSize": 8, "color": "#333", "baseline": "bottom", "dy": 1}, "encoding": {"text": {"field": "mark"}}},
                {"data": {"name": "frqM"}, "mark": {"type": "rule", "color": "#333", "strokeWidth": 1.3}, "encoding": {"y": {"field": "lo", "type": "quantitative"}, "y2": {"field": "hi"}}},
                {"data": {"name": "frqM"}, "mark": {"type": "tick", "orient": "horizontal", "size": 12, "thickness": 1.3, "color": "#333"}, "encoding": {"y": {"field": "lo", "type": "quantitative"}}},
                {"data": {"name": "frqM"}, "mark": {"type": "tick", "orient": "horizontal", "size": 12, "thickness": 1.3, "color": "#333"}, "encoding": {"y": {"field": "hi", "type": "quantitative"}}},
                {"data": {"name": "frqM"}, "mark": {"type": "tick", "orient": "horizontal", "size": 26, "thickness": 2, "color": "#333"}, "encoding": {"y": {"field": "m", "type": "quantitative"}}},
                {"data": {"values": [{"c": 0.19, "v": 0.14, "label": "Cii"}]}, "mark": {"type": "text", "fontSize": 11, "fontWeight": "bold", "color": "#111"}, "encoding": {"text": {"field": "label"}}}
              ]
            }
          ]
        }
      ]
    }
  ]
}
